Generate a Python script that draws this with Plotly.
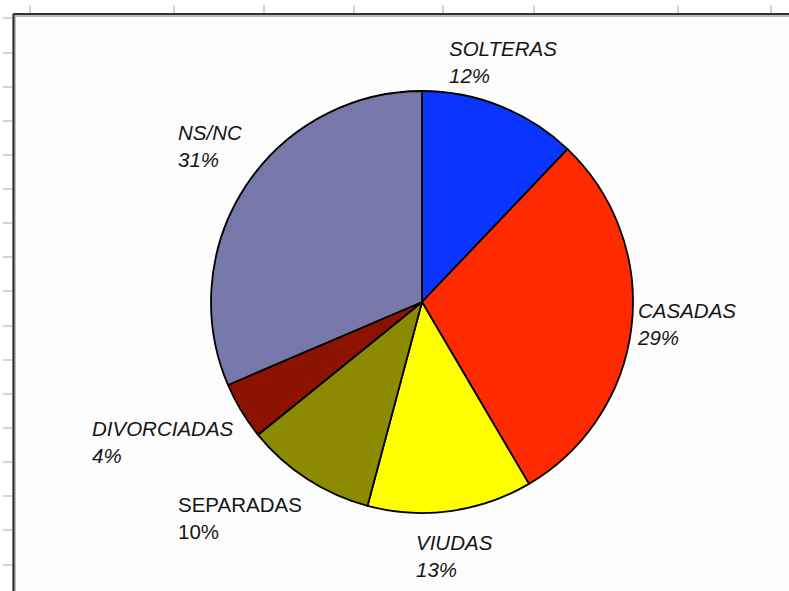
import plotly.graph_objects as go

W, H = 789, 591

# ---- data ----
categories = ["SOLTERAS", "CASADAS", "VIUDAS", "SEPARADAS", "DIVORCIADAS", "NS/NC"]
values = [12.1, 29.4, 12.6, 10.0, 4.4, 31.4]

# ---- styles ----
slice_colors = ["#0a35ff", "#ff2a00", "#ffff00", "#8c8a00", "#8b1300", "#7778a9"]
label_styles = ["italic", "italic", "italic", "normal", "italic", "italic"]
# label anchor (left, top) in screen pixels
label_pos = [(447, 35), (635, 297), (414, 529), (176, 491), (90, 415), (176, 119)]
top_tick_x = [30, 174, 264, 354, 443, 534, 678, 771]
left_tick_y = [18, 53, 87, 121, 155, 189, 223, 257, 291, 326, 360, 394, 428, 462, 496, 530, 565]

def px(x):
    return x / W

def py(y):
    return 1 - y / H

cx, cy, r = 422, 302, 211

fig = go.Figure(go.Pie(
    labels=categories,
    values=values,
    sort=False,
    direction="clockwise",
    rotation=0,
    marker=dict(colors=slice_colors, line=dict(color="#000000", width=1.8)),
    textinfo="none",
    hoverinfo="label+percent",
    domain=dict(x=[px(cx - r), px(cx + r)], y=[py(cy + r), py(cy - r)]),
    showlegend=False,
))

total = sum(values)
annotations = []
for cat, v, st, (lx, ly) in zip(categories, values, label_styles, label_pos):
    annotations.append(dict(
        x=px(lx), y=py(ly), xref="paper", yref="paper",
        xanchor="left", yanchor="top", align="left", showarrow=False,
        text=f"{cat}<br>{round(v / total * 100)}%",
        font=dict(family="Liberation Sans, Arial, sans-serif", size=20.5, color="#151515", style=st),
    ))

shapes = []
# spreadsheet grid ticks outside the chart frame
for x in top_tick_x:
    shapes.append(dict(type="line", xref="paper", yref="paper",
                       x0=px(x), x1=px(x), y0=py(5), y1=py(14),
                       line=dict(color="#d4d4d4", width=2)))
for y in left_tick_y:
    shapes.append(dict(type="line", xref="paper", yref="paper",
                       x0=px(3), x1=px(12), y0=py(y), y1=py(y),
                       line=dict(color="#d4d4d4", width=2)))
# chart frame (extends beyond the visible area)
shapes.append(dict(type="rect", xref="paper", yref="paper", layer="below",
                   x0=px(14), x1=px(W + 20), y0=py(H + 20), y1=py(15),
                   fillcolor="#fdfdfd", line=dict(color="#bdbdbd", width=4)))
shapes.append(dict(type="line", xref="paper", yref="paper",
                   x0=px(13.5), x1=px(W + 20), y0=py(14), y1=py(14),
                   line=dict(color="#333333", width=2)))
shapes.append(dict(type="line", xref="paper", yref="paper",
                   x0=px(13.5), x1=px(13.5), y0=py(14), y1=py(H + 20),
                   line=dict(color="#333333", width=2)))

fig.update_layout(
    width=W, height=H,
    margin=dict(l=0, r=0, t=0, b=0),
    paper_bgcolor="#ffffff",
    plot_bgcolor="#ffffff",
    annotations=annotations,
    shapes=shapes,
)

fig.write_html(
    "out.html",
    config={"displayModeBar": False},
    post_script="document.body.style.margin='0';document.body.style.padding='0';document.body.style.overflow='hidden';",
)
